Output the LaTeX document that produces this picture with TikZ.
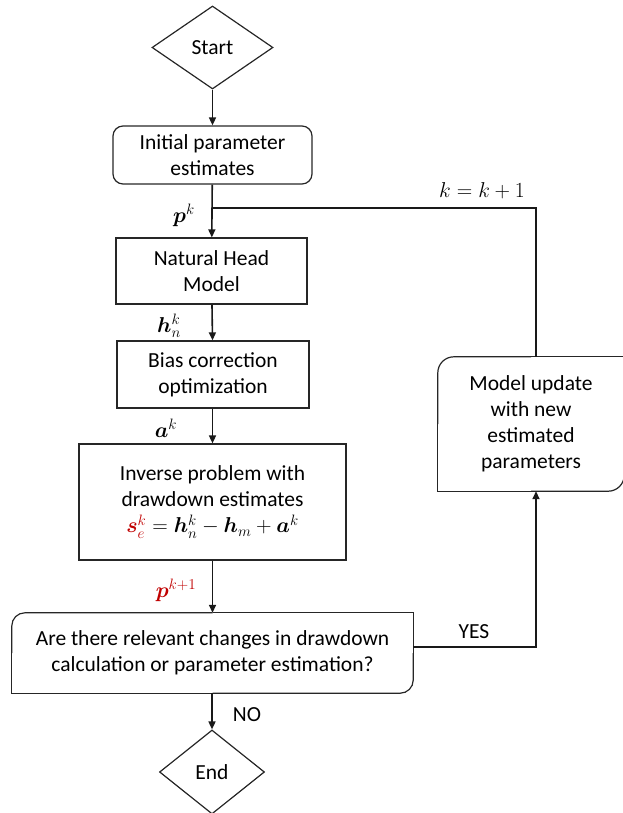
\RequirePackage{fix-cm}
\documentclass[tikz,border=0pt]{standalone}
\usepackage{amsmath,bm}
\usepackage{fontspec}
\setmainfont{Carlito}
\usetikzlibrary{shapes.geometric,arrows.meta}
\definecolor{myred}{HTML}{C00000}
\begin{document}
\begin{tikzpicture}[x=1pt,y=-1pt,
  font=\fontsize{21.5}{26}\selectfont,
  boxline/.style={draw=black!85, line width=1.2pt},
  box/.style={boxline, align=center, inner sep=0pt},
  plainbox/.style={align=center, inner sep=0pt},
  diam/.style={diamond, boxline, inner sep=0pt},
  conn/.style={line width=1.6pt, black!90},
  arr/.style={conn, -{Triangle[length=8pt,width=7pt]}},
  lbl/.style={inner sep=0pt}]
\useasboundingbox (0,0) rectangle (623,813);

% nodes
\node[diam, minimum width=121pt, minimum height=83pt] (start) at (212.5,47.5) {Start};
\node[box, rounded corners=10pt, minimum width=199pt, minimum height=58pt] (init) at (212.5,155) {Initial parameter\\estimates};
\node[box, minimum width=191pt, minimum height=66pt] (nat) at (211.5,271) {Natural Head\\Model};
\node[box, minimum width=192pt, minimum height=67pt] (bias) at (213,374.5) {Bias correction\\optimization};
\node[box, minimum width=267pt, minimum height=116pt] (inv) at (212.5,502) {Inverse problem with\\drawdown estimates\\$\color{myred}\bm{s}_e^k\color{black}=\bm{h}_n^k-\bm{h}_m+\bm{a}^k$};
\node[plainbox, minimum width=401pt, minimum height=80pt] (q) at (212.5,653) {Are there relevant changes in drawdown\\calculation or parameter estimation?};
\node[plainbox, minimum width=186pt, minimum height=134pt] (model) at (531,424) {Model update\\with new\\estimated\\parameters};
\node[diam, minimum width=105pt, minimum height=84pt] (end) at (212,772) {End};

% round-diagonal boxes
\draw[boxline, rounded corners=13pt] (q.west) |- (q.north);
\draw[boxline] (q.north) -| (q.east);
\draw[boxline, rounded corners=13pt] (q.east) |- (q.south);
\draw[boxline] (q.south) -| (q.west);

\draw[boxline, rounded corners=16pt] (model.west) |- (model.north);
\draw[boxline] (model.north) -| (model.east);
\draw[boxline, rounded corners=16pt] (model.east) |- (model.south);
\draw[boxline] (model.south) -| (model.west);

% coordinates
\coordinate (j) at (212,208);
\coordinate (mtop) at ([xshift=5pt]model.north);
\coordinate (mbot) at ([xshift=5pt]model.south);
\coordinate (qout) at ([yshift=6pt]q.east);

% connectors
\draw[arr] (start) -- (init);
\draw[arr] (init) -- (nat);
\draw[conn] (mtop) |- (j);
\draw[arr] (nat) -- (bias);
\draw[arr] (bias.south -| inv.north) -- (inv.north);
\draw[arr] (inv) -- (q.north -| inv.south);
\draw[arr] (q.south -| end.north) -- (end.north);
\draw[arr] (qout) -| (mbot);

% labels
\node[lbl] (lp) at (184,215) {$\bm{p}^k$};
\node[lbl] (lh) at (169,326) {$\bm{h}_n^k$};
\node[lbl] (la) at (166,428) {$\bm{a}^k$};
\node[lbl] (lp1) at (176,590) {\textcolor{myred}{$\bm{p}^{k+1}$}};
\node[lbl] (lk) at (482,191) {$k=k+1$};
\node[lbl] (lyes) at (474,632) {YES};
\node[lbl] (lno) at (247,715) {NO};
\end{tikzpicture}
\end{document}
